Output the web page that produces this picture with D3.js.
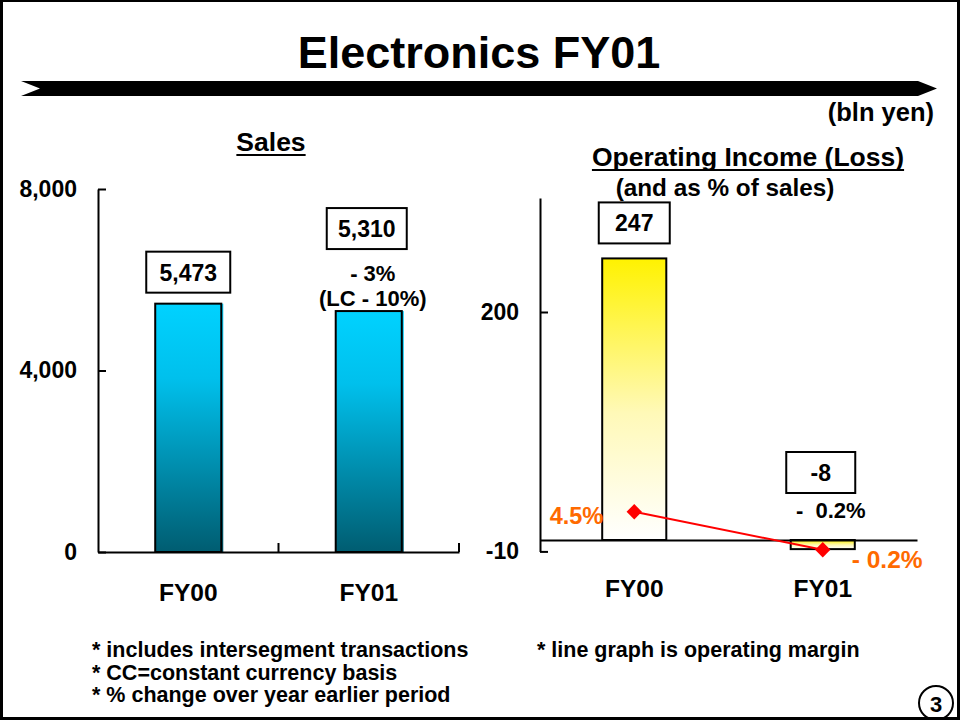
<!DOCTYPE html>
<html>
<head>
<meta charset="utf-8">
<script src="https://cdn.jsdelivr.net/npm/d3@7"></script>
<style>
  html, body { margin: 0; padding: 0; background: #fff; }
  svg { display: block; }
  text { font-family: "Liberation Sans", Arial, Helvetica, sans-serif; font-weight: bold; fill: #000; }
</style>
</head>
<body>
<svg id="chart" width="960" height="720"></svg>
<script>
// ---------- data ----------
const categories = ["FY00", "FY01"];
const salesValues = [5473, 5310];
const salesLabels = ["5,473", "5,310"];
const salesChangeNotes = ["- 3%", "(LC - 10%)"];
const salesTicks = [0, 4000, 8000];

const opIncomeValues = [247, -8];
const opIncomeLabels = ["247", "-8"];
const opTicks = [-10, 200];

const marginValues = [4.5, -0.2];
const marginLabels = ["4.5%", "- 0.2%"];
const marginNoteLabel = "-  0.2%";

const footnotesLeft = ["* includes intersegment transactions", "* CC=constant currency basis", "* % change over year earlier period"];
const footnotesRight = ["* line graph is operating margin"];

// ---------- setup ----------
const svg = d3.select("#chart");
const W = 960, H = 720;
svg.append("rect").attr("width", W).attr("height", H).attr("fill", "#fff");

const defs = svg.append("defs");
const cyan = defs.append("linearGradient").attr("id", "cyanGrad")
  .attr("x1", 0).attr("y1", 0).attr("x2", 0).attr("y2", 1);
cyan.append("stop").attr("offset", "0%").attr("stop-color", "#00D2FF");
cyan.append("stop").attr("offset", "30%").attr("stop-color", "#00C0EC");
cyan.append("stop").attr("offset", "100%").attr("stop-color", "#005C70");
const yel = defs.append("linearGradient").attr("id", "yelGrad")
  .attr("x1", 0).attr("y1", 0).attr("x2", 0).attr("y2", 1);
yel.append("stop").attr("offset", "0%").attr("stop-color", "#FFF200");
yel.append("stop").attr("offset", "55%").attr("stop-color", "#FFF9B8");
yel.append("stop").attr("offset", "100%").attr("stop-color", "#FFFFFF");

// page frame
svg.append("rect").attr("x", 0).attr("y", 0).attr("width", 3).attr("height", H).attr("fill", "#000");
svg.append("rect").attr("x", 0).attr("y", 0).attr("width", W).attr("height", 2).attr("fill", "#000");
svg.append("rect").attr("x", W - 3).attr("y", 0).attr("width", 3).attr("height", H).attr("fill", "#000");

// title
svg.append("text").attr("x", 479).attr("y", 68).attr("text-anchor", "middle")
  .style("font-size", "45px").text("Electronics FY01");

// banner arrow
svg.append("polygon")
  .attr("points", [[21,81],[918,81],[937,88.5],[918,96],[21,96],[40,88.5]].map(p => p.join(",")).join(" "))
  .attr("fill", "#000");

svg.append("text").attr("x", 934).attr("y", 121).attr("text-anchor", "end")
  .style("font-size", "25.5px").text("(bln yen)");

function underlinedText(x, y, txt, size) {
  const t = svg.append("text").attr("x", x).attr("y", y).attr("text-anchor", "middle")
    .style("font-size", size + "px").text(txt);
  const bb = t.node().getBBox();
  svg.append("line").attr("x1", bb.x).attr("x2", bb.x + bb.width)
    .attr("y1", y + 4).attr("y2", y + 4).attr("stroke", "#000").attr("stroke-width", 2);
  return t;
}

// ---------- Left chart: Sales ----------
const xS = d3.scaleBand().domain(categories).range([98, 459]).paddingInner(0.634).paddingOuter(0.317);
const yS = d3.scaleLinear().domain([0, 8000]).range([552, 189]);

underlinedText(271, 151, "Sales", 26.5);

// bars
const gS = svg.append("g");
gS.selectAll("rect.fill").data(categories).join("rect")
  .attr("x", d => xS(d)).attr("width", xS.bandwidth() + 2)
  .attr("y", (d, i) => yS(salesValues[i])).attr("height", (d, i) => yS(0) - yS(salesValues[i]) + 1)
  .attr("fill", "url(#cyanGrad)");
gS.selectAll("rect.out").data(categories).join("rect")
  .attr("x", d => xS(d)).attr("width", xS.bandwidth())
  .attr("y", (d, i) => yS(salesValues[i])).attr("height", (d, i) => yS(0) - yS(salesValues[i]))
  .attr("fill", "none").attr("stroke", "#000").attr("stroke-width", 2);

// y axis
const axS = svg.append("g").attr("transform", `translate(${xS.range()[0]},0)`)
  .call(d3.axisLeft(yS).tickValues(salesTicks).tickSize(-8).tickSizeOuter(0).tickPadding(21)
    .tickFormat(d3.format(",")));
axS.select(".domain").attr("stroke", "#000").attr("stroke-width", 2);
axS.selectAll(".tick line").attr("stroke-width", 2);
axS.selectAll(".tick text").style("font-size", "23px");
axS.attr("font-family", null).attr("font-size", null);

// x axis
const axSx = svg.append("g").attr("transform", `translate(0,${yS(0)})`)
  .call(d3.axisBottom(xS).tickSize(0).tickSizeOuter(0).tickPadding(32));
axSx.select(".domain").attr("stroke-width", 2);
axSx.selectAll(".tick text").style("font-size", "24.5px");
axSx.attr("font-family", null).attr("font-size", null);
// boundary ticks
svg.append("g").selectAll("line").data(categories).join("line")
  .attr("x1", d => xS(d) + xS.bandwidth() / 2 + xS.step() / 2)
  .attr("x2", d => xS(d) + xS.bandwidth() / 2 + xS.step() / 2)
  .attr("y1", yS(0)).attr("y2", yS(0) - 9).attr("stroke", "#000").attr("stroke-width", 2);

// value boxes
const boxOffsetS = [52, 103];
const boxWS = [84, 80];
salesValues.forEach((v, i) => {
  const cx = xS(categories[i]) + xS.bandwidth() / 2 + (i === 1 ? -2 : 0);
  const yb = yS(v) - boxOffsetS[i];
  svg.append("rect").attr("x", cx - boxWS[i] / 2).attr("y", yb).attr("width", boxWS[i]).attr("height", 41)
    .attr("fill", "#fff").attr("stroke", "#000").attr("stroke-width", 2);
  svg.append("text").attr("x", cx).attr("y", yb + 29).attr("text-anchor", "middle")
    .style("font-size", "23px").text(salesLabels[i]);
});
// change notes under FY01 box
salesChangeNotes.forEach((t, j) => {
  const cx = xS(categories[1]) + xS.bandwidth() / 2 + 4;
  svg.append("text").attr("x", cx).attr("y", yS(salesValues[1]) - 30 + j * 25)
    .attr("text-anchor", "middle").style("font-size", "22px").text(t);
});

// ---------- Right chart: Operating income ----------
const xO = d3.scaleBand().domain(categories).range([540, 917]).paddingInner(0.66).paddingOuter(0.33);
const yO = d3.scaleLinear().domain([-10, 300]).range([551.4, 198]);
const yM = d3.scaleLinear().domain([-0.4, 43.3]).range([551.4, 198]);

underlinedText(748, 166, "Operating Income (Loss)", 26.5);
svg.append("text").attr("x", 725).attr("y", 196).attr("text-anchor", "middle")
  .style("font-size", "24.3px").text("(and as % of sales)");

// bars
svg.append("g").selectAll("rect").data(categories).join("rect")
  .attr("x", d => xO(d)).attr("width", xO.bandwidth())
  .attr("y", (d, i) => yO(Math.max(0, opIncomeValues[i])))
  .attr("height", (d, i) => Math.abs(yO(opIncomeValues[i]) - yO(0)))
  .attr("fill", "url(#yelGrad)").attr("stroke", "#000").attr("stroke-width", 2);

// y axis
const axO = svg.append("g").attr("transform", `translate(${xO.range()[0]},0)`)
  .call(d3.axisLeft(yO).tickValues(opTicks).tickSize(-8).tickSizeOuter(0).tickPadding(21)
    .tickFormat(d => String(d)));
axO.select(".domain").attr("stroke-width", 2);
axO.selectAll(".tick line").attr("stroke-width", 2);
axO.selectAll(".tick text").style("font-size", "23px");
axO.attr("font-family", null).attr("font-size", null);

// x axis at zero
const axOx = svg.append("g").attr("transform", `translate(0,${yO(0)})`)
  .call(d3.axisBottom(xO).tickSize(0).tickSizeOuter(0).tickPadding(40));
axOx.select(".domain").attr("stroke-width", 2);
axOx.selectAll(".tick text").style("font-size", "24.5px");
axOx.attr("font-family", null).attr("font-size", null);

// value boxes
const boxOffsetO = [56, 88];
const boxWO = [71, 69];
opIncomeValues.forEach((v, i) => {
  const cx = xO(categories[i]) + xO.bandwidth() / 2 + (i === 1 ? -2 : 0);
  const yb = yO(Math.max(v, 0)) - boxOffsetO[i];
  svg.append("rect").attr("x", cx - boxWO[i] / 2).attr("y", yb).attr("width", boxWO[i]).attr("height", 41)
    .attr("fill", "#fff").attr("stroke", "#000").attr("stroke-width", 2);
  svg.append("text").attr("x", cx).attr("y", yb + 29).attr("text-anchor", "middle")
    .style("font-size", "23px").text(opIncomeLabels[i]);
});
svg.append("text").attr("x", xO(categories[1]) + xO.bandwidth() / 2 + 8).attr("y", yO(0) - 22)
  .attr("text-anchor", "middle").style("font-size", "22px").style("white-space", "pre")
  .attr("xml:space", "preserve").text(marginNoteLabel);

// margin line
const cxO = d => xO(d) + xO.bandwidth() / 2;
const lineGen = d3.line().x((d, i) => cxO(categories[i])).y(d => yM(d));
svg.append("path").datum(marginValues).attr("d", lineGen)
  .attr("fill", "none").attr("stroke", "#FF0000").attr("stroke-width", 2);
svg.append("g").selectAll("path").data(marginValues).join("path")
  .attr("transform", (d, i) => `translate(${cxO(categories[i])},${yM(d)})`)
  .attr("d", d3.symbol().type(d3.symbolDiamond2).size(150))
  .attr("fill", "#FF0000");
// margin labels
svg.append("text").attr("x", cxO(categories[0]) - 31).attr("y", yM(marginValues[0]) + 12)
  .attr("text-anchor", "end").style("font-size", "23.5px").style("fill", "#FF6A00").text(marginLabels[0]);
svg.append("text").attr("x", cxO(categories[1]) + 29).attr("y", yM(marginValues[1]) + 18)
  .attr("text-anchor", "start").style("font-size", "24.5px").style("fill", "#FF6A00").text(marginLabels[1]);

// ---------- footnotes ----------
svg.append("g").selectAll("text").data(footnotesLeft).join("text")
  .attr("x", 92).attr("y", (d, i) => 657 + i * 22.5)
  .style("font-size", "21.5px").text(d => d);
svg.append("g").selectAll("text").data(footnotesRight).join("text")
  .attr("x", 537).attr("y", 657)
  .style("font-size", "21.5px").text(d => d);

// page number
svg.append("circle").attr("cx", 936).attr("cy", 703).attr("r", 17)
  .attr("fill", "#fff").attr("stroke", "#000").attr("stroke-width", 2);
svg.append("rect").attr("x", 0).attr("y", H - 3).attr("width", W).attr("height", 3).attr("fill", "#000");
svg.append("text").attr("x", 936).attr("y", 712).attr("text-anchor", "middle")
  .style("font-size", "22px").text("3");
</script>
</body>
</html>
